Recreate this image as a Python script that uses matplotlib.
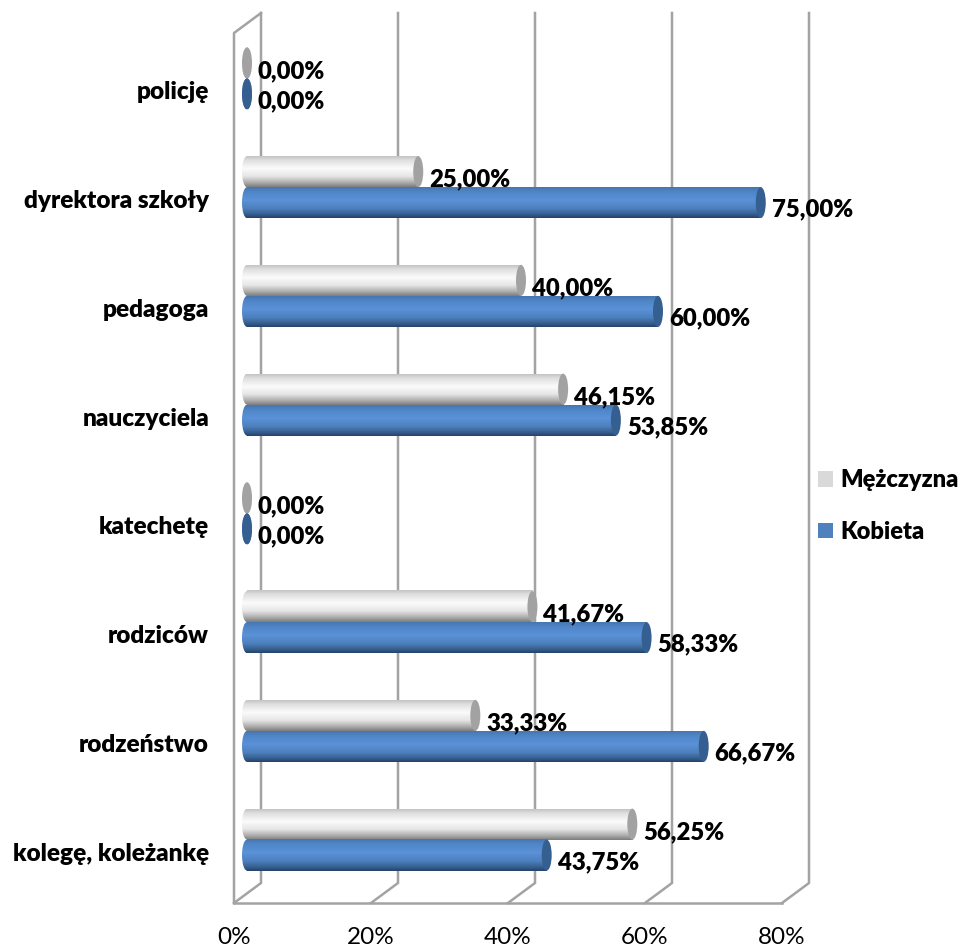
import numpy as np
import matplotlib.pyplot as plt
from matplotlib.colors import LinearSegmentedColormap
from matplotlib.patches import Ellipse, Patch

CATEGORIES = ["kolegę, koleżankę", "rodzeństwo", "rodziców", "katechetę",
              "nauczyciela", "pedagoga", "dyrektora szkoły", "policję"]
KOBIETA = [43.75, 66.67, 58.33, 0.00, 53.85, 60.00, 75.00, 0.00]
MEZCZYZNA = [56.25, 33.33, 41.67, 0.00, 46.15, 40.00, 25.00, 0.00]
X_TICKS = [0, 20, 40, 60, 80]

W, H = 960, 948
LEFT, RIGHT, BOTTOM, TOP = 234, 782, 903, 33
PX_X = (RIGHT - LEFT) / 80
PX_Y = (BOTTOM - TOP) / 8
# depth of the fake 3d box, in data units
BACK_X = 27 / PX_X
BACK_Y = 20 / PX_Y
BAR_X = 13 / PX_X
BAR_Y = 9 / PX_Y
BAR_H = 31 / PX_Y
CAP_W = 10 / PX_X
GRID = "#a3a3a3"
BOLD = 800

plt.rcParams['font.family'] = ['Lato', 'DejaVu Sans']

gray_map = LinearSegmentedColormap.from_list("gray3d", [
    (0, "#c4c4c4"), (0.12, "#dedede"), (0.4, "#fbfbfb"), (0.65, "#e6e6e6"),
    (0.85, "#b0b0b0"), (1, "#7e7e7e")])
blue_map = LinearSegmentedColormap.from_list("blue3d", [
    (0, "#4676ae"), (0.15, "#4f86c8"), (0.42, "#5b92d8"), (0.7, "#4c7fbc"),
    (0.88, "#37608f"), (1, "#24436a")])
ramp = np.linspace(0, 1, 64).reshape(-1, 1)

fig = plt.figure(figsize=(W / 100, H / 100), dpi=100)
ax = fig.add_axes([LEFT / W, 1 - BOTTOM / H, (RIGHT - LEFT) / W, (BOTTOM - TOP) / H])


def shaded(patch, cmap, z):
    # gradient fill clipped to the patch shape
    x0, x1, y0, y1 = patch
    im = ax.imshow(ramp, cmap=cmap, aspect='auto', extent=[x0, x1, y0, y1],
                   origin='upper', zorder=z, interpolation='bilinear', vmin=0, vmax=1)
    return im


def tube(y, value, cmap, cap, z):
    x = BAR_X
    top, bot = y + BAR_H / 2, y - BAR_H / 2
    rounded = Ellipse((x, y), CAP_W, BAR_H, transform=ax.transData)
    im = shaded((x - CAP_W / 2, x + CAP_W / 2, bot, top), cmap, z)
    ax.add_patch(rounded)
    rounded.set_visible(False)
    im.set_clip_path(rounded)
    if value > 0:
        ax.barh(y, value, BAR_H, left=x, color=cmap(0.5), zorder=z)
        shaded((x, x + value, bot, top), cmap, z + 0.1)
    ax.add_patch(Ellipse((x + value, y), CAP_W, BAR_H, facecolor=cap,
                         edgecolor='none', zorder=z + 0.2))


# back wall, side wall and floor
for t in X_TICKS:
    ax.plot([t + BACK_X, t + BACK_X, t], [8 + BACK_Y, BACK_Y, 0], color=GRID, lw=1.8,
            clip_on=False, zorder=1, solid_joinstyle='miter')
ax.plot([0, 0, BACK_X], [0, 8, 8 + BACK_Y], color=GRID, lw=1.8, clip_on=False, zorder=1)
ax.plot([0, 80], [0, 0], color=GRID, lw=1.8, clip_on=False, zorder=1)

for i, (k, m) in enumerate(zip(KOBIETA, MEZCZYZNA)):
    centre = i + 0.5 + BAR_Y
    tube(centre + BAR_H / 2, m, gray_map, "#a2a2a2", 3)
    tube(centre - BAR_H / 2, k, blue_map, "#365f91", 4)
    ax.text(m + BAR_X + 11 / PX_X, centre + BAR_H / 2 - 8 / PX_Y, f"{m:.2f}%".replace(".", ","),
            fontsize=17.2, fontweight=BOLD, va='center', ha='left', zorder=6)
    ax.text(k + BAR_X + 11 / PX_X, centre - BAR_H / 2 - 7 / PX_Y, f"{k:.2f}%".replace(".", ","),
            fontsize=17.2, fontweight=BOLD, va='center', ha='left', zorder=6)

ax.set_xlim(0, 80)
ax.set_ylim(0, 8)
ax.set_xticks(X_TICKS)
ax.set_xticklabels([f"{t}%" for t in X_TICKS], fontsize=17.5)
ax.set_yticks(np.arange(8) + 0.5 - 3 / PX_Y)
ax.set_yticklabels(CATEGORIES, fontsize=17.6, fontweight=BOLD)
ax.tick_params(axis='both', length=0)
ax.tick_params(axis='x', pad=17)
ax.tick_params(axis='y', pad=18)
for side in ax.spines.values():
    side.set_visible(False)
ax.patch.set_alpha(0)

handles = [Patch(facecolor="#d9d9d9", label="Mężczyzna"),
           Patch(facecolor="#4f81bd", label="Kobieta")]
fig.legend(handles=handles, loc='center left', bbox_to_anchor=(818 / W, 1 - 506 / H),
           frameon=False, prop={'size': 17, 'weight': BOLD}, handlelength=0.65,
           handleheight=0.65, handletextpad=0.3, labelspacing=1.25, borderpad=0, borderaxespad=0)

fig.savefig("out.png", dpi=100)
